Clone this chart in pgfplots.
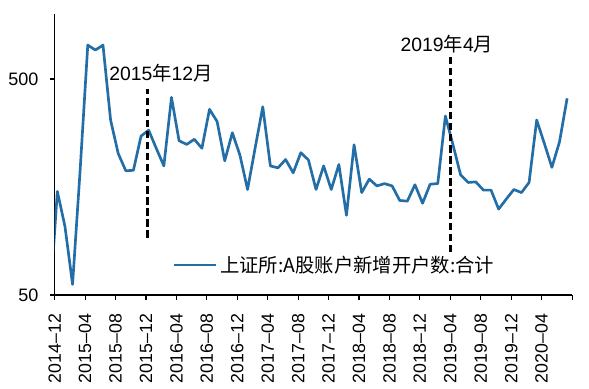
\documentclass[border=0pt]{standalone}
\usepackage{pgfplots}
\pgfplotsset{compat=1.18}
\usepackage{fontspec}
\setmainfont{Liberation Sans}
\newfontfamily\cjk{Noto Sans CJK SC}
\definecolor{ln}{RGB}{36,110,168}
\pgfplotstableread{
k v
-1 45
0 151
1 104
2 56
3 190
4 718
5 681
6 718
7 323
8 226
9 188
10 189
11 272
12 290
13 239
14 198
15 411
16 259
17 249
18 263
19 239
20 362
21 318
22 209
23 282
24 222
25 154
26 240
27 372
28 198
29 194
30 212
31 184
32 228
33 211
34 154
35 198
36 154
37 201
38 117
39 248
40 149
41 172
42 160
43 164
44 160
45 137
46 136
47 162
48 133
49 163
50 164
51 337
52 248
53 180
54 166
55 167
56 153
57 153
58 125
59 139
60 154
61 149
62 166
63 323
64 252
65 195
66 256
67 407
}\datatable
\begin{document}
\begin{tikzpicture}
\begin{axis}[
  at={(0,0)}, anchor=south west,
  scale only axis, width=388pt, height=210.75pt,
  ymode=log, ymin=50, ymax=1000,
  xmin=-0.35, xmax=67.65,
  axis x line*=bottom, axis y line*=left,
  x axis line style={-}, y axis line style={-},
  axis line style={black, line width=0.8pt},
  tick align=outside, major tick length=3.75pt,
  tick style={black, line width=0.8pt},
  yminorticks=false,
  ytick={50,500}, yticklabels={50,500},
  yticklabel style={font=\fontsize{13.5}{15}\selectfont, xshift=-5pt},
  xtick={-0.35,3.65,7.65,11.65,15.65,19.65,23.65,27.65,31.65,35.65,39.65,43.65,47.65,51.65,55.65,59.65,63.65,67.65},
  xticklabels={2014--12,2015--04,2015--08,2015--12,2016--04,2016--08,2016--12,2017--04,2017--08,2017--12,2018--04,2018--08,2018--12,2019--04,2019--08,2019--12,2020--04,{}},
  xticklabel style={rotate=90, anchor=east, font=\fontsize{13.3}{15}\selectfont, xshift=-7pt},
  legend style={at={(0.2268,0.1068)}, anchor=west, draw=none, fill=none, inner sep=0pt,
    font=\fontsize{14.5}{17}\selectfont, nodes={inner sep=2pt}},
  legend image code/.code={\draw[#1] (0pt,0pt) -- (32pt,0pt);},
]
\addplot[ln, line width=2pt, line join=round] table[x=k, y=v] {\datatable};
\addlegendentry{\cjk 上证所:A股账户新增开户数:合计}
\addplot[forget plot, black, line width=2.4pt, dash pattern=on 5.5pt off 2.8pt] coordinates {(11.87,92) (11.87,450)};
\addplot[forget plot, black, line width=2.4pt, dash pattern=on 5.5pt off 2.8pt] coordinates {(51.62,79) (51.62,646)};
\node[font=\fontsize{14.5}{17}\selectfont, inner sep=0pt] at (axis cs:13.62,533) {2015{\cjk 年}12{\cjk 月}};
\node[font=\fontsize{14.5}{17}\selectfont, inner sep=0pt] at (axis cs:51.2,726) {2019{\cjk 年}4{\cjk 月}};
\end{axis}
\pgfresetboundingbox
\path[use as bounding box] (-41pt,-69.75pt) rectangle (400.7pt,221.25pt);
\end{tikzpicture}
\end{document}
